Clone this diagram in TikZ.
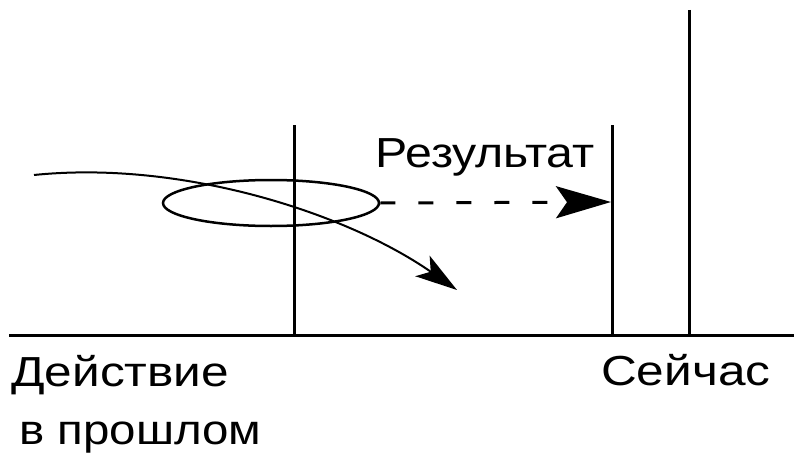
\documentclass[tikz,border=0pt]{standalone}
\usepackage{fontspec}
\usepackage{graphicx}
\setmainfont{Liberation Sans}
\usetikzlibrary{arrows.meta,shapes.geometric}
\newcommand{\wtxt}[2][1.18]{\scalebox{#1}[1]{#2}}
\begin{document}
\begin{tikzpicture}[x=1pt,y=-1pt,
  axis/.style={line width=3pt},
  vline/.style={line width=3pt},
  thin/.style={line width=2.5pt},
  curv/.style={line width=2pt},
  lbl/.style={inner sep=0pt,anchor=base west,font=\fontsize{42}{50}\selectfont}]
\useasboundingbox (0,0) rectangle (794,452);
\coordinate (axL) at (9,335);
\coordinate (axR) at (794,335);
\draw[axis] (axL) -- (axR);
\coordinate (v1t) at (294,125); \coordinate (v1b) at (294,335);
\coordinate (v2t) at (612,125); \coordinate (v2b) at (612,335);
\coordinate (v3t) at (689,10);  \coordinate (v3b) at (689,335);
\draw[vline] (v1t) -- (v1b);
\draw[vline] (v2t) -- (v2b);
\draw[vline] (v3t) -- (v3b);
\node[draw,thin,ellipse,minimum width=216pt,minimum height=46pt,inner sep=0pt] (ell) at (271,203) {};
\coordinate (res) at (611,202);
\draw[line width=3pt,dash pattern=on 15pt off 23pt,-{Stealth[length=55pt,width=32pt,inset=11pt]}] (ell.east) -- (res);
\coordinate (cs) at (34,175);
\coordinate (ce) at (457,290);
\draw[curv,-{Stealth[length=42pt,width=25pt,inset=10pt]}] (cs) .. controls (180,160) and (345,212) .. (ce);
\node[lbl] (t1) at (375,167) {\wtxt[1.15]{Результат}};
\node[lbl] (t2) at (11,386) {\wtxt{Действие}};
\node[lbl] (t3) at (19,444) {\wtxt[1.13]{в прошлом}};
\node[lbl] (t4) at (601,385) {\wtxt{Сейчас}};
\end{tikzpicture}
\end{document}
